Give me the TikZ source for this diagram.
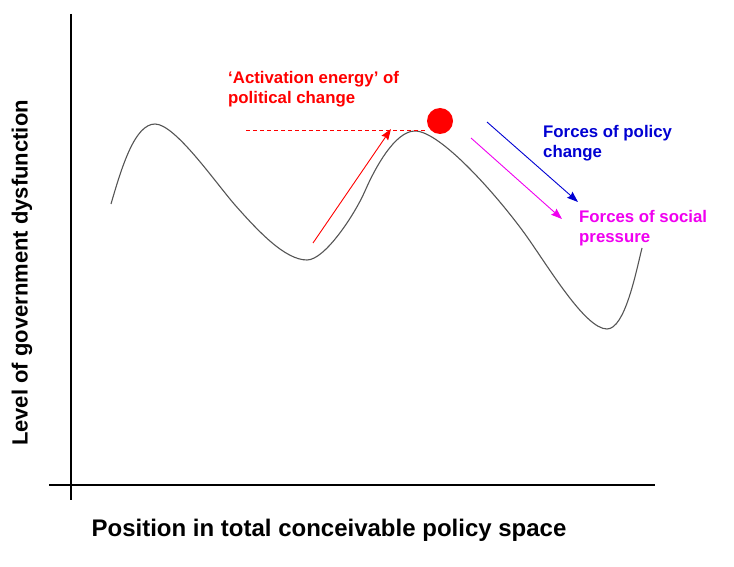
\documentclass[tikz,border=0pt]{standalone}
\usepackage{fontspec}
\setsansfont{Liberation Sans}
\usetikzlibrary{positioning,arrows.meta,calc}
\tikzset{
	>={Stealth[length=11pt,width=8pt,inset=1.5pt]}
}
\definecolor{curvegray}{RGB}{85,85,85}
\definecolor{forceblue}{RGB}{0,0,210}
\definecolor{forcemag}{RGB}{240,0,240}

\begin{document}
\begin{tikzpicture}[
x = 1pt, y = 1pt,
every node/.style = {
	font = \sffamily\bfseries
},
axis/.style = {
	draw,
	line width = 1.1pt
},
landscape/.style = {
	draw = curvegray,
	line width = 1.1pt
},
label/.style = {
	anchor = north west,
	inner sep = 0pt,
	align = left,
	font = \sffamily\bfseries\fontsize{16.8}{20.5}\selectfont
},
force/.style = {
	->,
	line width = 0.9pt
}
]
\useasboundingbox (0,0) rectangle (734,566);

% axes
\coordinate (y_top) at (71,552);
\coordinate (y_bot) at (71,66);
\coordinate (x_left) at (49,81);
\coordinate (x_right) at (655,81);
\draw [axis] (y_top) -- (y_bot);
\draw [axis] (x_left) -- (x_right);

\node (xlabel) [font = \sffamily\bfseries\fontsize{24}{28}\selectfont] at (329,36) {Position in total conceivable policy space};
\node (ylabel) [rotate = 90, font = \sffamily\bfseries\fontsize{22}{26}\selectfont] at (22,293) {Level of government dysfunction};

% the landscape
\coordinate (start) at (111,362);
\coordinate (peak1) at (155,442);
\coordinate (valley1) at (307,306);
\coordinate (peak2) at (415,435);
\coordinate (valley2) at (607,237);
\coordinate (stop) at (642,318);
\draw [landscape] (start) .. controls (122,400) and (135,442) .. (peak1)
	.. controls (175,442) and (215,384) .. (235,361)
	.. controls (258,335) and (285,306) .. (valley1)
	.. controls (325,306) and (355,352) .. (365,375)
	.. controls (375,398) and (395,435) .. (peak2)
	.. controls (440,435) and (496,372) .. (525,332)
	.. controls (548,300) and (585,237) .. (valley2)
	.. controls (625,237) and (636,294) .. (stop);

% ball on top of the barrier
\node (ball) [circle, fill = red, minimum size = 26pt, inner sep = 0pt] at (440,445) {};

% activation energy
\coordinate (dash_a) at (246,436);
\coordinate (dash_b) at (426,436);
\draw [red, dashed, line width = 0.8pt, dash pattern = on 4pt off 3pt] (dash_a) -- (dash_b);
\coordinate (act_a) at (313,323);
\coordinate (act_b) at (391,437);
\draw [force, red] (act_a) -- (act_b);
\node (act_t) [label, text = red] at (228,495) {`Activation energy' of\\political change};

% forces
\coordinate (pol_a) at (487,444);
\coordinate (pol_b) at (578,364);
\draw [force, forceblue] (pol_a) -- (pol_b);
\node (pol_t) [label, text = forceblue] at (543,441) {Forces of policy\\change};

\coordinate (soc_a) at (471,428);
\coordinate (soc_b) at (562,347);
\draw [force, forcemag] (soc_a) -- (soc_b);
\node (soc_t) [label, text = forcemag] at (579,356) {Forces of social\\pressure};

\end{tikzpicture}
\end{document}
